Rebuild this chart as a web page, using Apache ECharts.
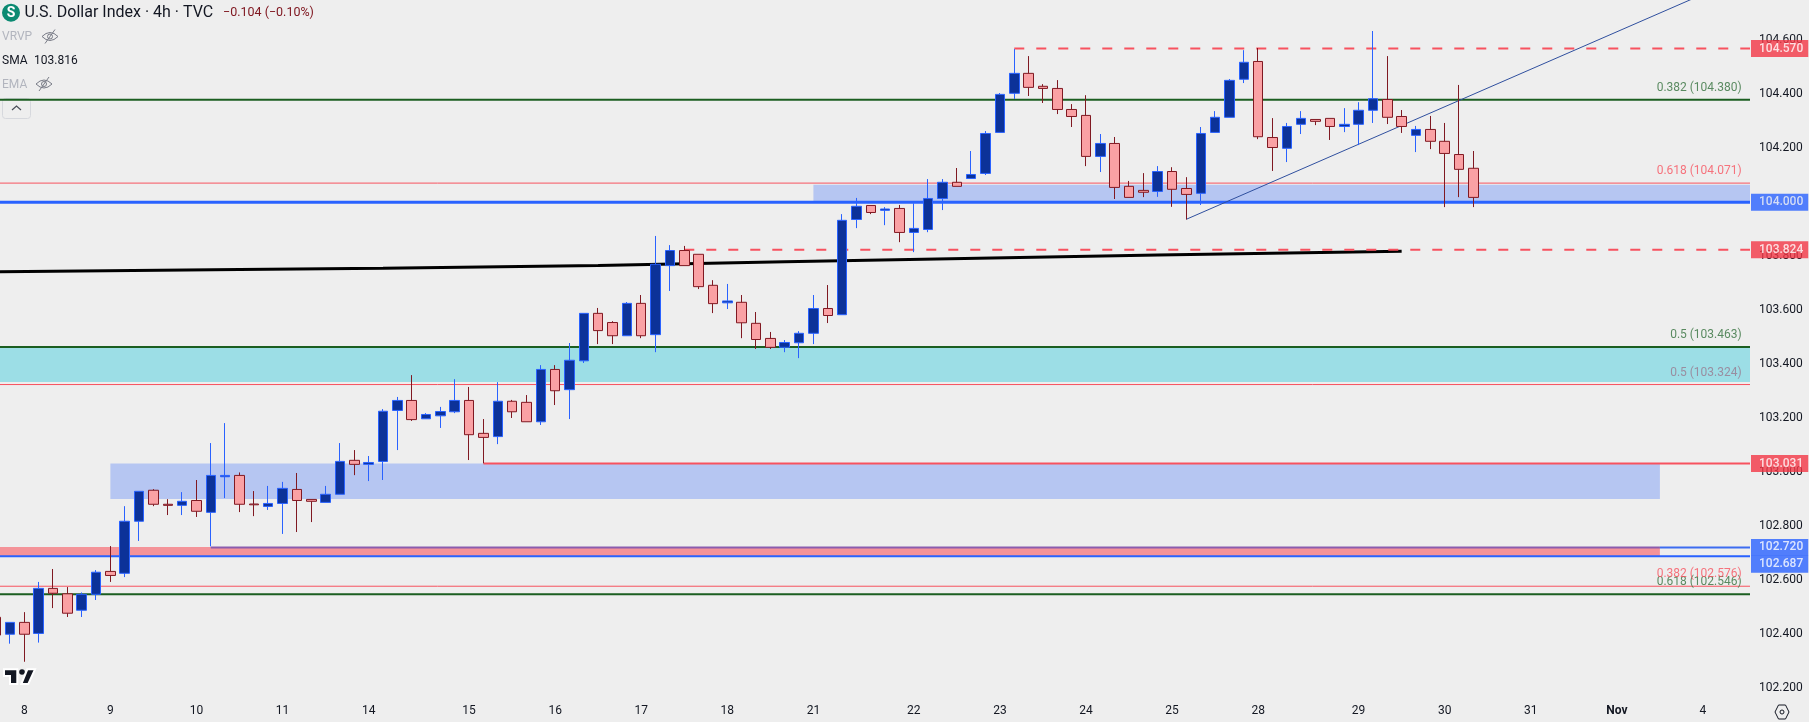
<!DOCTYPE html>
<html>
<head>
<meta charset="utf-8">
<title>U.S. Dollar Index 4h</title>
<script src="https://cdn.jsdelivr.net/npm/echarts@6/dist/echarts.min.js"></script>
<style>
  html, body { margin: 0; padding: 0; background: #eeeeee; }
  #chart { width: 1809px; height: 722px; }
</style>
</head>
<body>
<div id="chart"></div>
<script>
// bar numbers count 4h bars from the first one on the 8th
const firstBar = -2
const opens = [
  102.461, 102.398, 102.442, 102.401, 102.568, 102.548, 102.487, 102.546, 102.631, 102.624,
  102.817, 102.932, 102.880, 102.876, 102.894, 102.850, 102.982, 102.987, 102.881, 102.872,
  102.883, 102.935, 102.898, 102.887, 102.917, 103.043, 103.028, 103.039, 103.228, 103.265,
  103.197, 103.208, 103.223, 103.265, 103.143, 103.131, 103.262, 103.258, 103.186, 103.380,
  103.305, 103.412, 103.588, 103.554, 103.505, 103.625, 103.509, 103.765, 103.821, 103.807,
  103.692, 103.627, 103.629, 103.551, 103.495, 103.462, 103.479, 103.514, 103.606, 103.583,
  103.936, 103.988, 103.970, 103.977, 103.888, 103.899, 104.014, 104.074, 104.088, 104.107,
  104.259, 104.404, 104.478, 104.430, 104.422, 104.344, 104.322, 104.170, 104.218, 104.059,
  104.044, 104.040, 104.114, 104.051, 104.033, 104.259, 104.315, 104.456, 104.522, 104.240,
  104.200, 104.289, 104.307, 104.311, 104.281, 104.289, 104.341, 104.381, 104.318, 104.248,
  104.270, 104.226, 104.177, 104.126
]
const closes = [
  102.395, 102.442, 102.398, 102.568, 102.550, 102.476, 102.546, 102.628, 102.616, 102.817,
  102.928, 102.880, 102.876, 102.891, 102.854, 102.987, 102.987, 102.880, 102.878, 102.883,
  102.939, 102.894, 102.891, 102.917, 103.039, 103.028, 103.035, 103.225, 103.265, 103.194,
  103.213, 103.224, 103.265, 103.138, 103.128, 103.262, 103.223, 103.186, 103.380, 103.301,
  103.414, 103.588, 103.524, 103.505, 103.625, 103.505, 103.770, 103.821, 103.765, 103.687,
  103.624, 103.634, 103.553, 103.491, 103.462, 103.480, 103.514, 103.606, 103.580, 103.933,
  103.985, 103.962, 103.975, 103.888, 103.903, 104.014, 104.074, 104.059, 104.103, 104.255,
  104.400, 104.478, 104.426, 104.422, 104.344, 104.318, 104.170, 104.218, 104.055, 104.018,
  104.037, 104.114, 104.048, 104.029, 104.255, 104.315, 104.452, 104.519, 104.243, 104.203,
  104.281, 104.311, 104.300, 104.281, 104.289, 104.341, 104.384, 104.315, 104.281, 104.270,
  104.226, 104.181, 104.122, 104.018
]
const highs = [
  102.461, 102.442, 102.480, 102.592, 102.640, 102.573, 102.553, 102.636, 102.725, 102.873,
  102.928, 102.936, 102.899, 102.925, 102.970, 103.107, 103.181, 102.998, 102.929, 102.948,
  102.963, 102.996, 102.898, 102.948, 103.107, 103.081, 103.059, 103.233, 103.278, 103.359,
  103.218, 103.241, 103.344, 103.315, 103.196, 103.333, 103.267, 103.285, 103.396, 103.396,
  103.478, 103.588, 103.608, 103.559, 103.630, 103.656, 103.875, 103.841, 103.838, 103.807,
  103.711, 103.697, 103.656, 103.593, 103.519, 103.489, 103.522, 103.656, 103.693, 103.956,
  104.016, 103.988, 103.982, 103.990, 103.996, 104.086, 104.086, 104.127, 104.190, 104.264,
  104.405, 104.568, 104.542, 104.438, 104.453, 104.364, 104.397, 104.253, 104.242, 104.079,
  104.108, 104.134, 104.130, 104.093, 104.279, 104.338, 104.457, 104.564, 104.572, 104.312,
  104.294, 104.338, 104.307, 104.311, 104.349, 104.371, 104.635, 104.542, 104.342, 104.283,
  104.320, 104.294, 104.435, 104.190
]
const lows = [
  102.395, 102.363, 102.296, 102.367, 102.495, 102.462, 102.462, 102.525, 102.592, 102.610,
  102.744, 102.873, 102.840, 102.840, 102.833, 102.724, 102.903, 102.851, 102.836, 102.859,
  102.770, 102.777, 102.814, 102.887, 102.917, 102.988, 102.966, 102.970, 103.081, 103.189,
  103.197, 103.163, 103.218, 103.044, 103.032, 103.103, 103.200, 103.186, 103.174, 103.248,
  103.196, 103.404, 103.474, 103.474, 103.505, 103.496, 103.444, 103.671, 103.765, 103.678,
  103.589, 103.604, 103.496, 103.456, 103.456, 103.444, 103.422, 103.474, 103.552, 103.583,
  103.904, 103.956, 103.915, 103.852, 103.815, 103.889, 103.971, 104.059, 104.088, 104.101,
  104.259, 104.383, 104.394, 104.368, 104.327, 104.279, 104.134, 104.112, 104.012, 104.018,
  104.019, 104.020, 103.983, 103.936, 103.990, 104.259, 104.315, 104.442, 104.234, 104.116,
  104.149, 104.253, 104.286, 104.231, 104.260, 104.212, 104.294, 104.290, 104.257, 104.186,
  104.197, 103.982, 104.019, 103.982
]

// axis ticks
const dayBars = [0, 6, 12, 18, 24, 31, 37, 43, 49, 55, 62, 68, 74, 80, 86, 93, 99, 105, 111, 117]
const dayLabels = ['8', '9', '10', '11', '14', '15', '16', '17', '18', '21', '22', '23', '24', '25', '28', '29', '30', '31', 'Nov', '4']
const priceTicks = [102.2, 102.4, 102.6, 102.8, 103, 103.2, 103.4, 103.6, 103.8, 104, 104.2, 104.4, 104.6]

// SMA: [bar, price]
const smaPoints = [[-2, 103.742], [15, 103.751], [25, 103.755], [40, 103.765], [53, 103.779], [79, 103.804], [96, 103.818]]
const trendPoints = [[81, 103.937], [116.3, 104.755]]

// levels
const greenLevels = [104.38, 103.463, 102.546]
const thinRedLevels = [104.071, 103.324, 102.576]
const resistanceDashed = [[69, 104.57], [46, 103.824]]
const redLevel = [32, 103.031]
const supportLevel = 104
const upperBlueLevel = 102.72
const lowerBlueLevel = 102.687
const redTags = [104.57, 103.824, 103.031]
const blueTags = [104, 102.72]
const pushedDownTags = [102.687]

// zones: [from bar, to bar, top price, bottom price]; null means the edge of the chart
const cyanZone = [null, null, 103.463, 103.333]
const blueZoneHigh = [55, null, 104.065, 104]
const blueZoneLow = [6, 114, 103.031, 102.9]
const pinkZone = [null, 114, 102.722, 102.687]
const overlapEnd = 114

// fib texts
const fibGreen = [[0.382, 104.38], [0.5, 103.463], [0.618, 102.546]]
const fibRed = [[0.618, 104.071], [0.382, 102.576]]
const fibFaded = [[0.5, 103.324]]

const UP_BODY = '#0c3299'
const UP_EDGE = '#2962ff'
const DOWN_BODY = '#faa1a4'
const DOWN_EDGE = '#801922'
const RED = '#f7525f'
const GREEN = '#1b5e20'

// the x scale: bar 0 sits at 24.3px, 14.347px per bar, plot ends at 1750px
const xMin = -1.694
const xMax = 120.28
const yMin = 102.169
const yMax = 104.75

const candleData = opens.map((o, i) => [firstBar + i, o, closes[i], lows[i], highs[i]])

function levelLine(name, from, to, price, color, width, dash) {
  return {
    name,
    type: 'line',
    z: 3,
    silent: true,
    symbol: 'none',
    animation: false,
    lineStyle: { color, width, type: dash || 'solid' },
    data: [[from, price], [to, price]]
  }
}

function zoneArea(zone, color) {
  return [
    { coord: [zone[0] === null ? xMin : zone[0], zone[2]], itemStyle: { color } },
    { coord: [zone[1] === null ? xMax : zone[1], zone[3]] }
  ]
}

function textSeries(name, data, label) {
  return {
    name,
    type: 'scatter',
    z: 9,
    silent: true,
    clip: false,
    animation: false,
    symbolSize: 0,
    data,
    label
  }
}

function fibLabels(name, list, color) {
  return textSeries(name, list.map(f => ({ value: [119.7, f[1]], fib: f[0] })), {
    show: true,
    position: 'left',
    distance: 0,
    offset: [0, -12],
    color,
    fontFamily: 'Roboto',
    fontSize: 12,
    formatter: p => `${p.data.fib} (${p.value[1].toFixed(3)})`
  })
}

function tagLabels(name, list, color, shiftY) {
  return textSeries(name, list.map(v => [xMax, v]), {
    show: true,
    position: 'right',
    distance: 1,
    offset: [0, shiftY || 0],
    color: '#ffffff',
    fontFamily: 'Roboto',
    fontSize: 12,
    fontWeight: 500,
    backgroundColor: color,
    padding: [2, 5, 2, 8],
    lineHeight: 13,
    formatter: p => p.value[1].toFixed(3)
  })
}

const series = [
  {
    name: 'zones',
    type: 'line',
    z: 1,
    silent: true,
    symbol: 'none',
    animation: false,
    lineStyle: { width: 0 },
    data: [[xMin, cyanZone[2]], [xMax, cyanZone[2]]],
    markArea: {
      silent: true,
      animation: false,
      data: [
        zoneArea(cyanZone, '#9cdee6'),
        zoneArea(blueZoneHigh, '#b6c6f2'),
        zoneArea(blueZoneLow, '#b6c6f2'),
        zoneArea(pinkZone, '#f49399')
      ]
    }
  },
  {
    name: 'SMA',
    type: 'line',
    z: 2,
    silent: true,
    symbol: 'none',
    animation: false,
    lineStyle: { color: '#000000', width: 3 },
    data: smaPoints
  },
  ...greenLevels.map(p => levelLine('fib green', xMin, xMax, p, GREEN, 2)),
  ...thinRedLevels.map(p => levelLine('fib red', xMin, xMax, p, RED, 1)),
  ...resistanceDashed.map(d => levelLine('resistance', d[0], xMax, d[1], RED, 2, [10, 12])),
  levelLine('103.031', redLevel[0], xMax, redLevel[1], RED, 2),
  levelLine('104', xMin, xMax, supportLevel, UP_EDGE, 3),
  levelLine('102.72 zone', 13, overlapEnd, upperBlueLevel, '#8a5cae', 2),
  levelLine('102.72', overlapEnd, xMax, upperBlueLevel, '#3d6cf0', 2),
  levelLine('102.687', xMin, xMax, lowerBlueLevel, UP_EDGE, 2),
  {
    name: 'trend',
    type: 'line',
    z: 4,
    silent: true,
    symbol: 'none',
    animation: false,
    lineStyle: { color: '#2f4f9e', width: 1 },
    data: trendPoints
  },
  {
    name: 'DXY',
    type: 'candlestick',
    z: 5,
    silent: true,
    animation: false,
    barWidth: 10,
    itemStyle: {
      color: UP_BODY,
      color0: DOWN_BODY,
      borderColor: UP_EDGE,
      borderColor0: DOWN_EDGE,
      borderWidth: 1
    },
    data: candleData
  },
  fibLabels('fib text green', fibGreen, '#33703c'),
  fibLabels('fib text red', fibRed, '#f7525f'),
  fibLabels('fib text faded', fibFaded, '#98798f'),
  tagLabels('tags red', redTags, '#f23645'),
  tagLabels('tags blue', blueTags, '#2962ff'),
  tagLabels('tags blue low', pushedDownTags, '#2962ff', 8)
]

function eye(cx, cy) {
  const stroke = { stroke: '#787b86', lineWidth: 1, fill: null }
  return [
    { type: 'bezierCurve', shape: { x1: cx - 8, y1: cy, cpx1: cx, cpy1: cy - 8, x2: cx + 8, y2: cy }, style: stroke },
    { type: 'bezierCurve', shape: { x1: cx - 8, y1: cy, cpx1: cx, cpy1: cy + 8, x2: cx + 8, y2: cy }, style: stroke },
    { type: 'circle', shape: { cx, cy, r: 2.5 }, style: stroke },
    { type: 'line', shape: { x1: cx - 5, y1: cy + 7, x2: cx + 5, y2: cy - 7 }, style: stroke }
  ]
}

function headerText(x, y, text, color, size) {
  return {
    type: 'text',
    x,
    y,
    style: { text, fill: color, font: `${size}px Roboto`, textVerticalAlign: 'middle' }
  }
}

const logoEdge = { stroke: '#ffffff', lineWidth: 2, fill: '#131722' }

const graphic = [
  { type: 'circle', shape: { cx: 11, cy: 12.7, r: 9 }, style: { fill: '#0b8a72' } },
  { type: 'text', x: 11, y: 13, style: { text: 'S', fill: '#ffffff', font: 'bold 14px Roboto', textAlign: 'center', textVerticalAlign: 'middle' } },
  headerText(24.5, 12.7, 'U.S. Dollar Index · 4h · TVC', '#131722', 16),
  headerText(223, 12.7, '−0.104 (−0.10%)', '#801922', 12.5),
  headerText(2, 36.5, 'VRVP', '#b2b5be', 12),
  ...eye(50, 36.5),
  headerText(2, 61, 'SMA', '#131722', 12),
  headerText(34, 61, '103.816', '#131722', 12),
  headerText(2, 85, 'EMA', '#b2b5be', 12),
  ...eye(44, 84),
  { type: 'rect', shape: { x: 2.5, y: 98.5, width: 28, height: 20, r: 3 }, style: { fill: '#eeeeee', stroke: '#d6d8dd', lineWidth: 1 } },
  { type: 'polyline', shape: { points: [[12, 110], [16.5, 106], [21, 110]] }, style: { stroke: '#4a4e59', lineWidth: 1.2, fill: null } },
  // watermark
  { type: 'polygon', shape: { points: [[4, 669.3], [17.3, 669.3], [17.3, 684], [10, 684], [10, 676], [4, 676]] }, style: logoEdge },
  { type: 'circle', shape: { cx: 22, cy: 672, r: 2.8 }, style: { fill: '#131722' } },
  { type: 'polygon', shape: { points: [[27.3, 669.3], [35, 669.3], [28.3, 684], [21.3, 684]] }, style: logoEdge },
  // settings button
  { type: 'polygon', shape: { points: [[1775, 712], [1778.5, 705], [1785.5, 705], [1789, 712], [1785.5, 719], [1778.5, 719]] }, style: { stroke: '#131722', lineWidth: 1, fill: null } },
  { type: 'circle', shape: { cx: 1782, cy: 712, r: 2 }, style: { stroke: '#131722', lineWidth: 1, fill: null } }
]

const option = {
  backgroundColor: '#eeeeee',
  animation: false,
  grid: { left: 0, right: 59, top: 0, bottom: 26, containLabel: false },
  xAxis: {
    type: 'value',
    min: xMin,
    max: xMax,
    splitLine: { show: false },
    axisLine: { show: false },
    axisTick: { show: false },
    axisLabel: {
      customValues: dayBars,
      margin: 9,
      color: '#131722',
      fontFamily: 'Roboto',
      fontSize: 12,
      hideOverlap: false,
      formatter: v => {
        const text = dayLabels[dayBars.indexOf(v)]
        return text === 'Nov' ? `{month|${text}}` : text
      },
      rich: { month: { fontWeight: 'bold', fontFamily: 'Roboto', fontSize: 12, color: '#131722' } }
    }
  },
  yAxis: {
    type: 'value',
    position: 'right',
    min: yMin,
    max: yMax,
    scale: true,
    splitLine: { show: false },
    axisLine: { show: false },
    axisTick: { show: false },
    axisLabel: {
      customValues: priceTicks,
      margin: 9,
      color: '#131722',
      fontFamily: 'Roboto',
      fontSize: 12,
      formatter: v => v.toFixed(3)
    }
  },
  series,
  graphic
}

const chart = echarts.init(document.getElementById('chart'))
chart.setOption(option)
window.addEventListener('resize', () => chart.resize())
</script>
</body>
</html>
